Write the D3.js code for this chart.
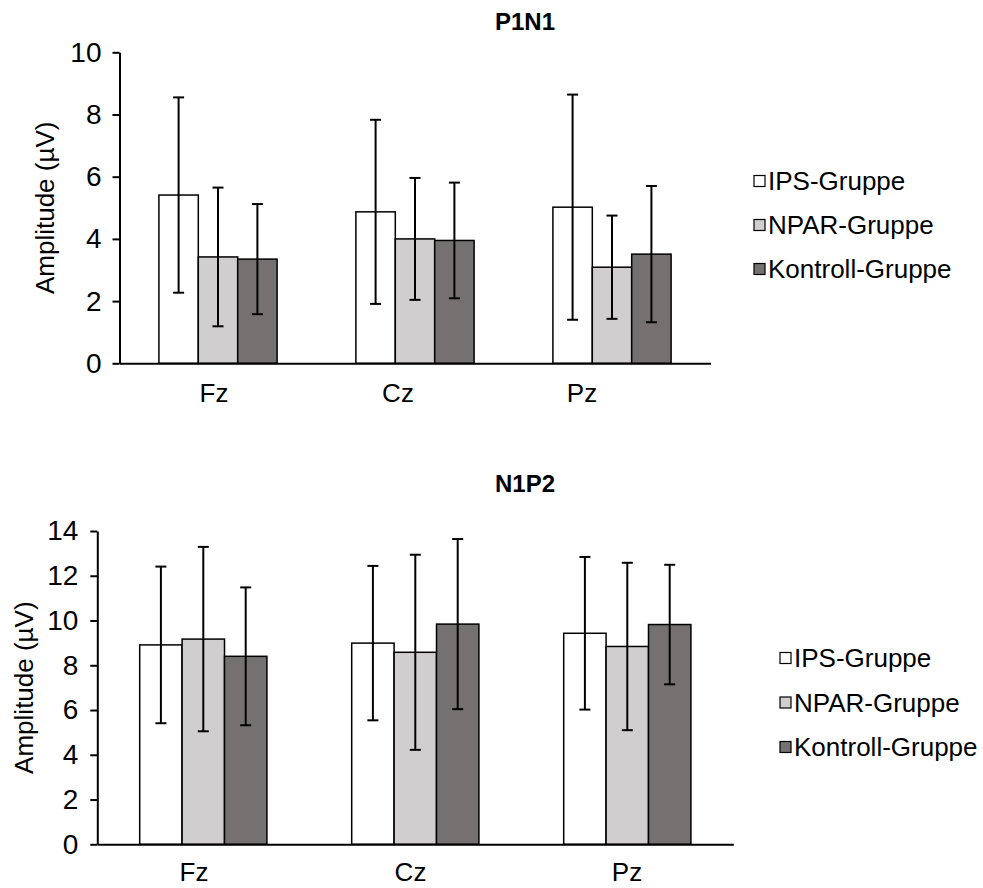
<!DOCTYPE html>
<html>
<head>
<meta charset="utf-8">
<script src="https://cdn.jsdelivr.net/npm/d3@7"></script>
<style>
  body { margin: 0; background: #fff; }
  svg text { font-family: "Liberation Sans", Arial, sans-serif; fill: #000; }
</style>
</head>
<body>
<svg id="svg" width="983" height="888"></svg>
<script>
// electrodes and groups
const categories = ["Fz", "Cz", "Pz"];
const groups = ["IPS-Gruppe", "NPAR-Gruppe", "Kontroll-Gruppe"];
const groupColors = ["#ffffff", "#d0cece", "#767171"];

// P1N1 means / SD, one row per group (Fz, Cz, Pz)
const p1n1Means = [[5.41, 4.87, 5.02], [3.42, 4.00, 3.09], [3.35, 3.95, 3.51]];
const p1n1Errors = [[3.14, 2.96, 3.62], [2.23, 1.96, 1.66], [1.77, 1.86, 2.19]];
const p1n1Ticks = [0, 2, 4, 6, 8, 10];

// N1P2
const n1p2Means = [[8.91, 8.99, 9.43], [9.17, 8.58, 8.84], [8.40, 9.84, 9.82]];
const n1p2Errors = [[3.50, 3.45, 3.41], [4.12, 4.36, 3.74], [3.08, 3.80, 2.67]];
const n1p2Ticks = [0, 2, 4, 6, 8, 10, 12, 14];

const svg = d3.select("#svg");
const fs = 26;

function drawChart(opt) {
  const g = svg.append("g");

  const x0 = d3.scaleBand().domain(categories)
    .range([opt.left, opt.right]).paddingInner(0.4).paddingOuter(0.2);
  const x1 = d3.scaleBand().domain(groups).range([0, x0.bandwidth()]);
  const y = d3.scaleLinear().domain([0, d3.max(opt.ticks)]).range([opt.bottom, opt.top]);
  // category labels sit a bit off the group centres in the original
  const xLab = d3.scalePoint().domain(categories).range(opt.labRange);

  // flatten into bar records
  var bars = [];
  groups.forEach((grp, gi) => {
    categories.forEach((cat, ci) => {
      bars.push({grp: grp, gi: gi, cat: cat, v: opt.means[gi][ci], e: opt.errors[gi][ci]});
    });
  });

  g.selectAll("rect.bar").data(bars).enter()
    .append("rect").attr("class", "bar")
    .attr("x", d => x0(d.cat) + x1(d.grp))
    .attr("y", d => y(d.v))
    .attr("width", x1.bandwidth())
    .attr("height", d => y(0) - y(d.v))
    .attr("fill", d => groupColors[d.gi])
    .attr("stroke", "#000").attr("stroke-width", 1.5);

  // error bars
  var eb = g.selectAll("g.err").data(bars).enter().append("g").attr("class", "err")
    .attr("stroke", "#000").attr("stroke-width", 2);
  var cx = d => x0(d.cat) + x1(d.grp) + x1.bandwidth() / 2;
  eb.append("line").attr("x1", cx).attr("x2", cx)
    .attr("y1", d => y(d.v + d.e)).attr("y2", d => y(d.v - d.e));
  eb.append("line").attr("x1", d => cx(d) - 5.5).attr("x2", d => cx(d) + 5.5)
    .attr("y1", d => y(d.v + d.e)).attr("y2", d => y(d.v + d.e));
  eb.append("line").attr("x1", d => cx(d) - 5.5).attr("x2", d => cx(d) + 5.5)
    .attr("y1", d => y(d.v - d.e)).attr("y2", d => y(d.v - d.e));

  // axes
  var yAxis = g.append("g").attr("transform", "translate(" + opt.left + ",0)")
    .call(d3.axisLeft(y).tickValues(opt.ticks).tickSize(7).tickSizeOuter(0).tickPadding(opt.yPad));
  var xAxis = g.append("g").attr("transform", "translate(0," + opt.bottom + ")")
    .call(d3.axisBottom(x0).tickSize(0).tickPadding(opt.xPad));
  xAxis.selectAll(".tick").attr("transform", d => "translate(" + xLab(d) + ",0)");
  [yAxis, xAxis].forEach(a => {
    a.selectAll("path, line").attr("stroke", "#000").attr("stroke-width", 2);
    a.selectAll("text").style("font-size", fs + "px").attr("fill", "#000");
  });
  yAxis.selectAll("text").style("font-size", "28px");

  g.append("text")
    .attr("transform", "translate(" + opt.labelX + "," + (opt.top + opt.bottom) / 2 + ") rotate(-90)")
    .attr("text-anchor", "middle").attr("dy", "0.35em")
    .style("font-size", fs + "px")
    .text("Amplitude (µV)");

  g.append("text")
    .attr("x", 525).attr("y", opt.titleY)
    .attr("text-anchor", "middle")
    .style("font-size", "24px").style("font-weight", "bold")
    .text(opt.title);

  // legend
  var lg = g.selectAll("g.leg").data(groups).enter().append("g").attr("class", "leg")
    .attr("transform", (d, i) => "translate(" + opt.legX + "," + (opt.legY + i * opt.legStep) + ")");
  lg.append("rect").attr("x", 0).attr("y", -5.5).attr("width", 11).attr("height", 11)
    .attr("fill", (d, i) => groupColors[i]).attr("stroke", "#000").attr("stroke-width", 1.2);
  lg.append("text").attr("x", 14).attr("dy", "0.35em")
    .style("font-size", fs + "px").text(d => d);
}

drawChart({
  title: "P1N1", titleY: 30,
  means: p1n1Means, errors: p1n1Errors, ticks: p1n1Ticks,
  left: 119.5, right: 710.5, top: 52.3, bottom: 363.3, labelX: 45,
  labRange: [214, 582], xPad: 20, yPad: 11,
  legX: 754, legY: 181, legStep: 44
});

drawChart({
  title: "N1P2", titleY: 492,
  means: n1p2Means, errors: n1p2Errors, ticks: n1p2Ticks,
  left: 97.3, right: 733.3, top: 531, bottom: 844.3, labelX: 24,
  labRange: [194, 627], xPad: 18, yPad: 12,
  legX: 780, legY: 658, legStep: 44.5
});
</script>
</body>
</html>
